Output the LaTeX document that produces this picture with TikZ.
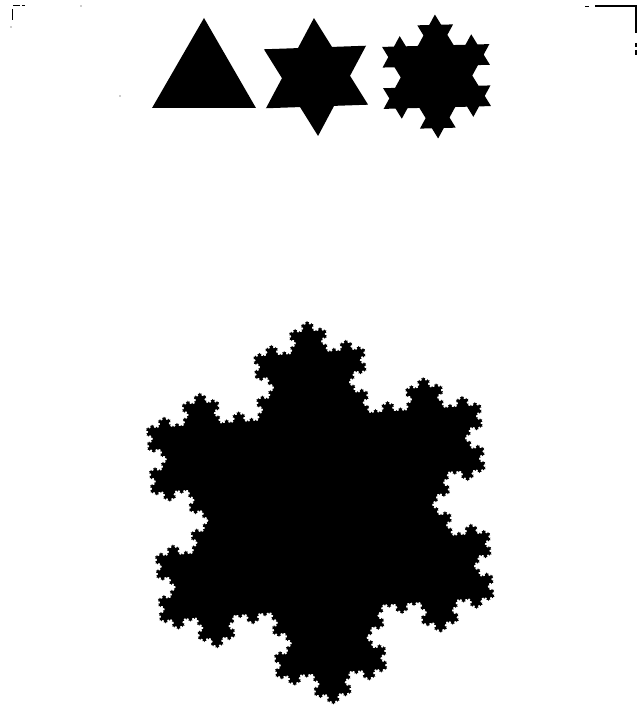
\documentclass[tikz,border=0pt]{standalone}
\usetikzlibrary{lindenmayersystems}

\definecolor{ink}{RGB}{0,0,0}
\definecolor{scan}{RGB}{40,40,40}

\pgfdeclarelindenmayersystem{Koch flake}{
  \rule{F -> F-F++F-F}
}

\tikzset{
    flake/.style={
        fill=ink,
        draw=none
    },
    scanmark/.style={
        draw=ink,
        line width=1.6pt
    },
    speck/.style={
        fill=scan
    }
}

\begin{document}
\begin{tikzpicture}[x=1bp, y=1bp]

\useasboundingbox (0,0) rectangle (637,709);

% first steps of the snowflake, side by side
\foreach \cx/\cy/\r/\tilt/\order in {204/631/60/0/0, 316/632/59/2/1, 436.5/632.5/62/1.5/2} {
    \pgfmathsetmacro{\side}{\r*sqrt(3)}
    \pgfmathsetmacro{\len}{\side/(3^\order)}
    \begin{scope}[shift={(\cx,\cy)}, rotate=\tilt]
    \begin{scope}[shift={(-0.5*\side, -0.5*\r)}]
        \fill[flake, l-system={Koch flake, axiom=F++F++F, order=\order, step=\len bp, angle=60}]
            (0,0) lindenmayer system;
    \end{scope}
    \end{scope}
}

% the big one
\def\bigr{192.5}
\pgfmathsetmacro{\bigside}{\bigr*sqrt(3)}
\pgfmathsetmacro{\biglen}{\bigside/243}
\begin{scope}[shift={(320.5,196.5)}, rotate=4, xscale=1.01]
\begin{scope}[shift={(-0.5*\bigside, -0.5*\bigr)}]
    \fill[flake, l-system={Koch flake, axiom=F++F++F, order=5, step=\biglen bp, angle=60}]
        (0,0) lindenmayer system;
\end{scope}
\end{scope}

% marks left by the scan
\draw[scanmark] (595,703) -- (636,703) -- (636,676);
\draw[scanmark] (636,666) -- (636,662);
\draw[scanmark] (636,659) -- (636,654);
\draw[scanmark, line width=0.8pt] (585,703) -- (589,703);
\draw[scanmark, line width=1pt] (13,703) -- (20,703);
\draw[scanmark, line width=1pt] (22,703) -- (25,703);
\draw[scanmark, line width=0.8pt] (12,700) -- (12,689);
\fill[speck] (11,682) circle (0.7);
\fill[speck] (81,703) circle (0.6);
\fill[speck] (120,613) circle (0.6);

\end{tikzpicture}
\end{document}
